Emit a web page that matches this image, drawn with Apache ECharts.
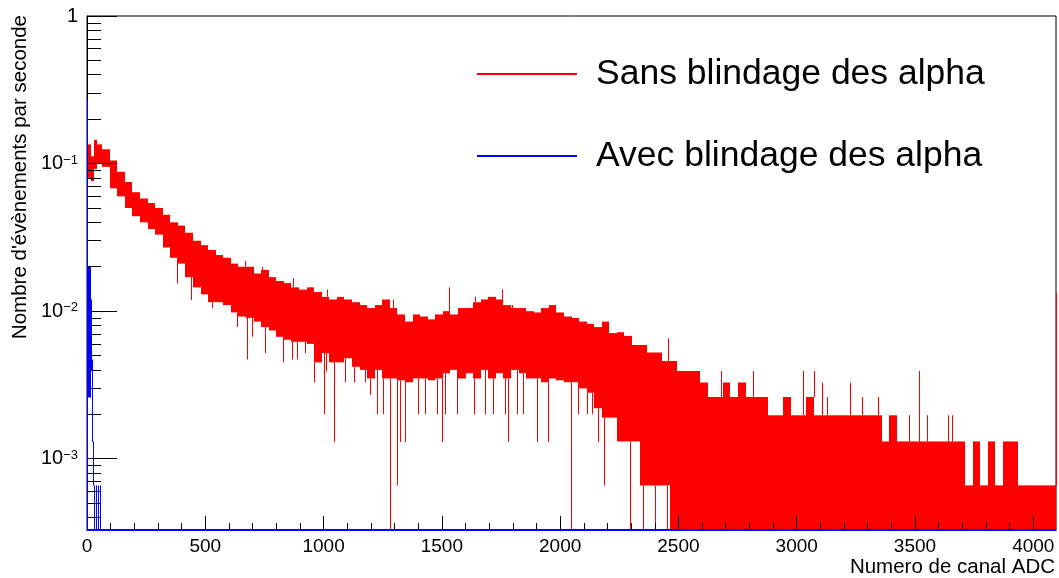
<!DOCTYPE html>
<html>
<head>
<meta charset="utf-8">
<script src="https://cdn.jsdelivr.net/npm/echarts@6.0.0/dist/echarts.min.js"></script>
<style>
  html, body { margin: 0; padding: 0; background: #ffffff; }
  #chart { width: 1059px; height: 578px; }
</style>
</head>
<body>
<div id="chart"></div>
<script>
// ADC spectrum, rate per channel (events / s), log scale.
const CHANNELS = 4096;
const Y_MIN = 3.29e-4;
const Y_MAX = 1;

const seriesNames = ['Sans blindage des alpha', 'Avec blindage des alpha'];

// Axis ticks and labels
const xTickValues = [0, 500, 1000, 1500, 2000, 2500, 3000, 3500, 4000];
const yTickValues = [0.001, 0.01, 0.1, 1];
const yTickBase = ['10', '10', '10', '1'];
const yTickExp = ['\u22123', '\u22122', '\u22121', ''];

// Red spectrum, first channels (explicit channel edges)
const redHeadEdges = [0, 1, 16, 30, 44, 64];
const redHeadLow = [0, 0.080, 0.076, 0.092, 0.100];
const redHeadHigh = [1.2, 0.135, 0.112, 0.145, 0.135];

// Red spectrum from channel 64 on: range of the rate inside each 32-channel slice
const BAND_START = 64;
const BAND_WIDTH = 32;
const redHigh = [
  0.125, 0.105, 0.088, 0.075, 0.064, 0.058, 0.054, 0.050, 0.045, 0.040,
  0.038, 0.034, 0.030, 0.028, 0.026, 0.024, 0.023, 0.021, 0.020, 0.020,
  0.018, 0.019, 0.017, 0.016, 0.0155, 0.0145, 0.014, 0.0145, 0.0135, 0.0125,
  0.012, 0.0125, 0.012, 0.0115, 0.011, 0.0105, 0.011, 0.012, 0.0105, 0.0095,
  0.0085, 0.0095, 0.0092, 0.0088, 0.0095, 0.010, 0.0095, 0.0105, 0.0105, 0.0115,
  0.012, 0.0125, 0.012, 0.011, 0.0105, 0.0105, 0.010, 0.0098, 0.0105, 0.011,
  0.0098, 0.0092, 0.009, 0.0085, 0.0082, 0.0078, 0.0085, 0.0071, 0.0072, 0.0068,
  0.0059, 0.0059, 0.00524, 0.00524, 0.00459, 0.00459, 0.00393, 0.00393, 0.00393, 0.00328,
  0.00262, 0.00262, 0.00328, 0.00262, 0.00328, 0.00262, 0.00262, 0.00262, 0.00197, 0.00197,
  0.00262, 0.00197, 0.00197, 0.00262, 0.00197, 0.00197, 0.00197, 0.00197, 0.00197, 0.00197,
  0.00197, 0.00197, 0.00197, 0.00131, 0.00197, 0.00131, 0.00131, 0.00131, 0.00131, 0.00131,
  0.00131, 0.00131, 0.00131, 0.00131, 0.00066, 0.00131, 0.00066, 0.00131, 0.00066, 0.00131,
  0.00131, 0.00066, 0.00066, 0.00066, 0.00066, 0.00066
];
const redLow = [
  0.095, 0.068, 0.060, 0.050, 0.044, 0.040, 0.036, 0.033, 0.027, 0.023,
  0.021, 0.017, 0.0145, 0.013, 0.0115, 0.0115, 0.011, 0.0098, 0.0092, 0.009,
  0.0085, 0.0078, 0.0074, 0.0067, 0.0064, 0.0062, 0.0062, 0.006, 0.0045, 0.0052,
  0.0045, 0.0045, 0.0048, 0.0042, 0.004, 0.0035, 0.004, 0.0035, 0.0035, 0.0034,
  0.0033, 0.0035, 0.0035, 0.0034, 0.0035, 0.0038, 0.004, 0.0035, 0.0038, 0.0035,
  0.004, 0.0035, 0.0038, 0.0035, 0.004, 0.0038, 0.0035, 0.0035, 0.0033, 0.0035,
  0.0034, 0.0033, 0.0033, 0.003, 0.0028, 0.0022, 0.0019, 0.0019, 0.00131, 0.00131,
  0.00131, 0.00066, 0.00066, 0.00066, 0.00066, 0, 0, 0, 0, 0,
  0, 0, 0, 0, 0, 0, 0, 0, 0, 0,
  0, 0, 0, 0, 0, 0, 0, 0, 0, 0,
  0, 0, 0, 0, 0, 0, 0, 0, 0, 0,
  0, 0, 0, 0, 0, 0, 0, 0, 0, 0,
  0, 0, 0, 0, 0, 0
];

// Single channels sticking out of the red band
const redSpikeChannel = [
  382, 438, 530, 633, 668, 678, 699, 738, 753, 827,
  865, 870, 886, 920, 961, 1000, 1010, 1013, 1044, 1091,
  1129, 1175, 1196, 1225, 1250, 1282, 1292, 1309, 1323, 1345,
  1401, 1429, 1479, 1500, 1514, 1532, 1563, 1634, 1640, 1683,
  1718, 1753, 1768, 1781, 1795, 1817, 1845, 1901, 1950, 2045,
  2077, 2113, 2134, 2162, 2185, 2296, 2352, 2402, 2451, 2458,
  2679, 2816, 3026, 3071, 3107, 3127, 3226, 3276, 3343, 3473,
  3515, 3550, 3639, 3656, 4095
];
const redSpikeValue = [
  0.0154, 0.0119, 0.0105, 0.0078, 0.022, 0.0047, 0.0067, 0.020, 0.0052, 0.0045,
  0.0047, 0.0167, 0.0047, 0.0052, 0.0033, 0.0020, 0.0039, 0.014, 0.0013, 0.0033,
  0.0033, 0.0033, 0.0027, 0.0020, 0.0020, 0, 0.012, 0.00066, 0.0013, 0.0013,
  0.0020, 0.0020, 0.0020, 0.0013, 0.0020, 0.0145, 0.0020, 0.0020, 0.0125, 0.0020,
  0.0020, 0.014, 0.0020, 0.0013, 0.011, 0.0020, 0.0020, 0.0013, 0.0013, 0,
  0.0020, 0.0020, 0.0020, 0.0013, 0.00066, 0, 0, 0, 0, 0.00655,
  0.00393, 0.00393, 0.00393, 0.00393, 0.00328, 0.00262, 0.00328, 0.00262, 0.00262, 0.00197,
  0.00393, 0.00197, 0.00197, 0.00197, 0.0133
];

// Blue spectrum: channel slices with their rate range
const blueStart = [0, 2, 16, 22, 26, 29, 40, 48, 55];
const blueEnd = [2, 16, 22, 26, 29, 33, 43, 50, 57];
const blueLow = [0, 0.0026, 0.004, 0.0013, 0.00066, 0, 0, 0, 0];
const blueHigh = [0.27, 0.020, 0.012, 0.0047, 0.00131, 0.00066, 0.00066, 0.00066, 0.00066];

const FONT = '"Liberation Sans", Arial, Helvetica, sans-serif';

// ---- build series items: [startChannel, endChannel, low, high] ----
const floorRate = v => Math.max(v, Y_MIN);

const redItems = [];
for (let i = 0; i < redHeadHigh.length; i++) {
  redItems.push([redHeadEdges[i], redHeadEdges[i + 1], floorRate(redHeadLow[i]), redHeadHigh[i]]);
}
for (let i = 0; i < redHigh.length; i++) {
  const s = BAND_START + i * BAND_WIDTH;
  redItems.push([s, s + BAND_WIDTH, floorRate(redLow[i]), redHigh[i]]);
}
const bandCount = redItems.length;
for (let k = 0; k < redSpikeChannel.length; k++) {
  const ch = redSpikeChannel[k];
  const v = floorRate(redSpikeValue[k]);
  let band = null;
  for (let j = 0; j < bandCount; j++) {
    if (ch >= redItems[j][0] && ch < redItems[j][1]) { band = redItems[j]; break; }
  }
  if (!band) continue;
  if (v < band[2]) redItems.push([ch, ch + 1, v, band[2]]);
  else if (v > band[3]) redItems.push([ch, ch + 1, band[3], v]);
}

// empty channels of the blue spectrum sit on the lower frame
const blueItems = [[0, CHANNELS, Y_MIN, Y_MIN]];
for (let i = 0; i < blueStart.length; i++) {
  blueItems.push([blueStart[i], blueEnd[i], floorRate(blueLow[i]), blueHigh[i]]);
}

const xMinorTicks = [];
for (let c = 100; c < CHANNELS; c += 100) if (c % 500 !== 0) xMinorTicks.push(c);
const yMinorTicks = [];
[1e-4, 1e-3, 1e-2, 1e-1].forEach(d => {
  for (let m = 2; m <= 9; m++) {
    const v = m * d;
    if (v >= Y_MIN && v <= Y_MAX) yMinorTicks.push(v);
  }
});

function renderSlice(params, api) {
  const c0 = api.value(0), c1 = api.value(1);
  const lo = Math.min(Math.max(api.value(2), Y_MIN), Y_MAX);
  const hi = Math.min(Math.max(api.value(3), Y_MIN), Y_MAX);
  const pLo = api.coord([c0, lo]);
  const pHi = api.coord([c1, hi]);
  const xa = Math.round(pLo[0]);
  const xb = Math.round(pHi[0]);
  const w = Math.max(xb - xa, 1);
  let y = pHi[1];
  let h = pLo[1] - pHi[1];
  if (h < 2) { y = (pLo[1] + pHi[1]) / 2 - 1; h = 2; }
  return {
    type: 'rect',
    shape: { x: xa, y: y, width: w, height: h },
    style: { fill: api.visual('color') }
  };
}

const chart = echarts.init(document.getElementById('chart'), null, { renderer: 'canvas' });

chart.setOption({
  animation: false,
  backgroundColor: '#ffffff',
  grid: {
    left: 87, right: 3, top: 16, bottom: 48,
    show: true, borderColor: '#000', borderWidth: 1, backgroundColor: 'transparent',
    outerBoundsMode: 'none', containLabel: false
  },
  legend: {
    orient: 'vertical',
    left: 472, top: 49,
    itemWidth: 100, itemHeight: 2, itemGap: 42,
    selectedMode: false,
    data: [
      { name: seriesNames[0], icon: 'rect' },
      { name: seriesNames[1], icon: 'rect' }
    ],
    textStyle: { fontFamily: FONT, fontSize: 35.5, color: '#000', lineHeight: 40, padding: [0, 0, 0, 14] }
  },
  xAxis: [
    {
      type: 'value', position: 'bottom', min: 0, max: CHANNELS,
      axisLine: { show: true, onZero: false, lineStyle: { color: '#000', width: 1 } },
      axisTick: { show: true, inside: true, length: 14, customValues: xTickValues, lineStyle: { color: '#000', width: 1 } },
      axisLabel: {
        show: true, customValues: xTickValues, margin: 7,
        fontFamily: FONT, fontSize: 19, color: '#000',
        formatter: v => String(v)
      },
      splitLine: { show: false },
      z: 5
    },
    {
      type: 'value', position: 'bottom', min: 0, max: CHANNELS,
      axisLine: { show: false },
      axisTick: { show: true, inside: true, length: 7, customValues: xMinorTicks, lineStyle: { color: '#000', width: 1 } },
      axisLabel: { show: false },
      splitLine: { show: false },
      z: 5
    }
  ],
  yAxis: [
    {
      type: 'log', logBase: 10, position: 'left', min: Y_MIN, max: Y_MAX,
      axisLine: { show: true, onZero: false, lineStyle: { color: '#000', width: 1 } },
      axisTick: { show: true, inside: true, length: 30, customValues: yTickValues, lineStyle: { color: '#000', width: 1 } },
      axisLabel: {
        show: true, customValues: yTickValues, margin: 9,
        formatter: function (v) {
          let idx = 0, best = Infinity;
          for (let i = 0; i < yTickValues.length; i++) {
            const d = Math.abs(Math.log10(yTickValues[i]) - Math.log10(v));
            if (d < best) { best = d; idx = i; }
          }
          return yTickExp[idx] ? '{b|' + yTickBase[idx] + '}{s|' + yTickExp[idx] + '}' : '{b|' + yTickBase[idx] + '}';
        },
        rich: {
          b: { fontFamily: FONT, fontSize: 20, color: '#000', lineHeight: 20, verticalAlign: 'middle' },
          s: { fontFamily: FONT, fontSize: 13, color: '#000', lineHeight: 13, verticalAlign: 'top' }
        }
      },
      splitLine: { show: false },
      z: 5
    },
    {
      type: 'log', logBase: 10, position: 'left', min: Y_MIN, max: Y_MAX,
      axisLine: { show: false },
      axisTick: { show: true, inside: true, length: 14, customValues: yMinorTicks, lineStyle: { color: '#000', width: 1 } },
      axisLabel: { show: false },
      splitLine: { show: false },
      z: 5
    }
  ],
  series: [
    {
      name: seriesNames[0],
      type: 'custom',
      xAxisIndex: 0, yAxisIndex: 0,
      clip: false,
      itemStyle: { color: '#ff0000' },
      encode: { x: [0, 1], y: [2, 3] },
      renderItem: renderSlice,
      data: redItems,
      z: 2
    },
    {
      name: seriesNames[1],
      type: 'custom',
      xAxisIndex: 0, yAxisIndex: 0,
      clip: false,
      itemStyle: { color: '#0000ff' },
      encode: { x: [0, 1], y: [2, 3] },
      renderItem: renderSlice,
      data: blueItems,
      z: 11
    }
  ],
  graphic: [
    {
      type: 'text', x: 1055, y: 567,
      style: { text: 'Numero de canal ADC', fontFamily: FONT, fontSize: 20.5, fill: '#000', align: 'right', verticalAlign: 'middle' }
    },
    {
      type: 'text', x: 20, y: 15, rotation: Math.PI / 2,
      style: { text: "Nombre d'\u00e9v\u00e8nements par seconde", fontFamily: FONT, fontSize: 20.5, fill: '#000', align: 'right', verticalAlign: 'middle' }
    }
  ]
});
</script>
</body>
</html>
